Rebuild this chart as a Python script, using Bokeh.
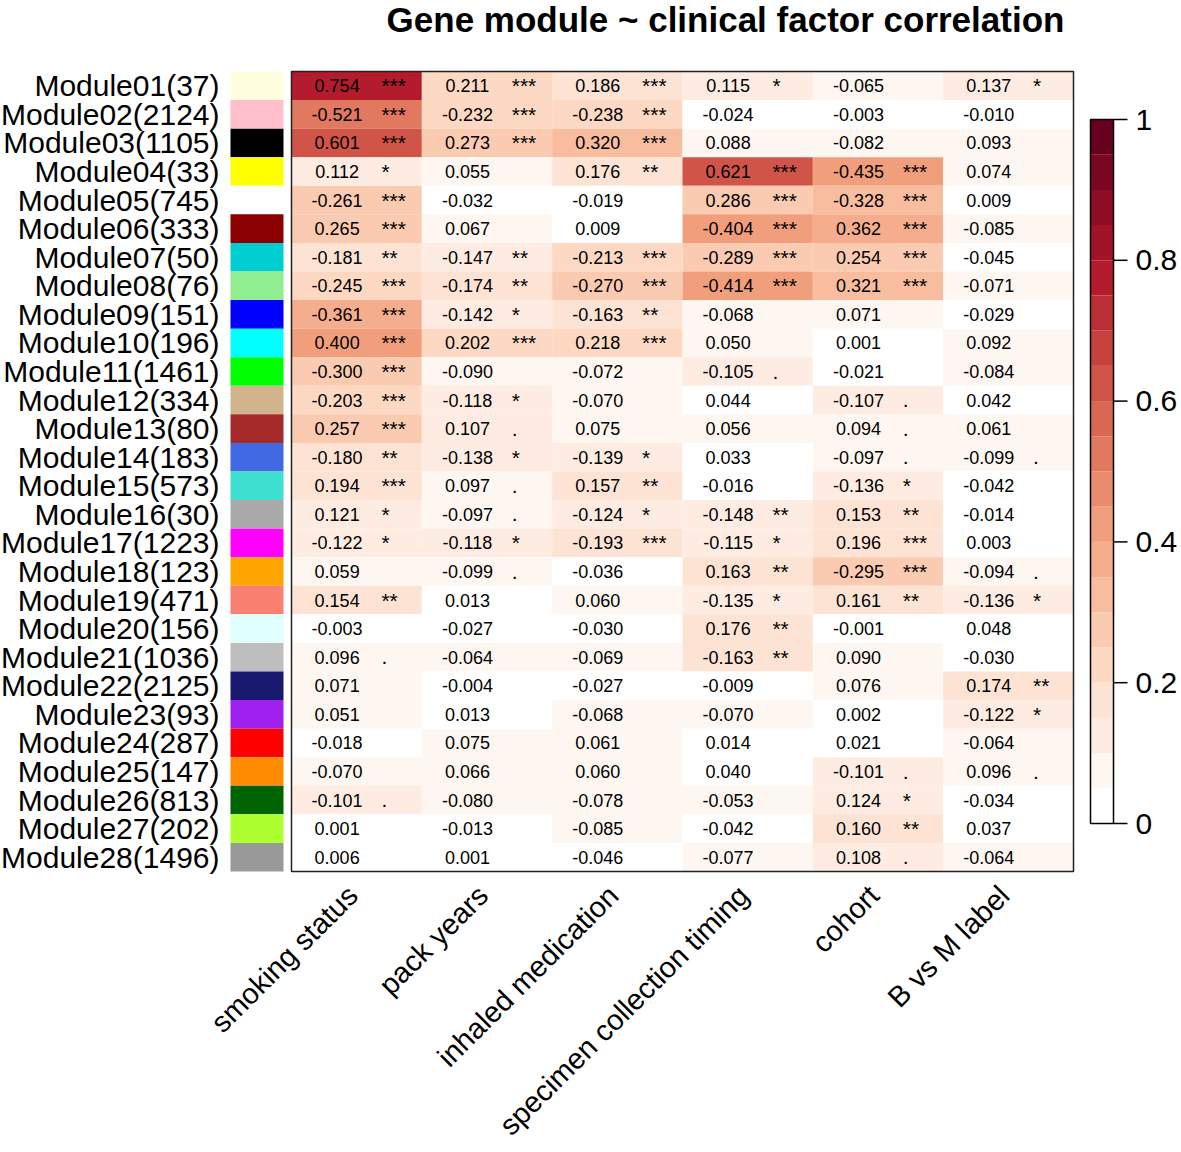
import math
import numpy as np
from bokeh.plotting import figure
from bokeh.models import Range1d, ColumnDataSource
from bokeh.core.properties import value
from bokeh.embed import file_html
from bokeh.resources import INLINE

# ---------------- data ----------------
factors = ["smoking status", "pack years", "inhaled medication",
           "specimen collection timing", "cohort", "B vs M label"]

module_names = ["Module%02d" % (i + 1) for i in range(28)]
module_sizes = [37, 2124, 1105, 33, 745, 333, 50, 76, 151, 196, 1461, 334, 80, 183,
                573, 30, 1223, 123, 471, 156, 1036, 2125, 93, 287, 147, 813, 202, 1496]
module_colors = ["#FFFFE0", "#FFC0CB", "#000000", "#FFFF00", "#FFFFFF", "#8B0000",
                 "#00CED1", "#90EE90", "#0000FF", "#00FFFF", "#00FF00", "#D2B48C",
                 "#A52A2A", "#4169E1", "#40E0D0", "#A9A9A9", "#FF00FF", "#FFA500",
                 "#FA8072", "#E0FFFF", "#BEBEBE", "#191970", "#A020F0", "#FF0000",
                 "#FF8C00", "#006400", "#ADFF2F", "#999999"]

corr_smoking = [0.754, -0.521, 0.601, 0.112, -0.261, 0.265, -0.181, -0.245, -0.361, 0.400,
                -0.300, -0.203, 0.257, -0.180, 0.194, 0.121, -0.122, 0.059, 0.154, -0.003,
                0.096, 0.071, 0.051, -0.018, -0.070, -0.101, 0.001, 0.006]
corr_packyears = [0.211, -0.232, 0.273, 0.055, -0.032, 0.067, -0.147, -0.174, -0.142, 0.202,
                  -0.090, -0.118, 0.107, -0.138, 0.097, -0.097, -0.118, -0.099, 0.013, -0.027,
                  -0.064, -0.004, 0.013, 0.075, 0.066, -0.080, -0.013, 0.001]
corr_inhaled = [0.186, -0.238, 0.320, 0.176, -0.019, 0.009, -0.213, -0.270, -0.163, 0.218,
                -0.072, -0.070, 0.075, -0.139, 0.157, -0.124, -0.193, -0.036, 0.060, -0.030,
                -0.069, -0.027, -0.068, 0.061, 0.060, -0.078, -0.085, -0.046]
corr_timing = [0.115, -0.024, 0.088, 0.621, 0.286, -0.404, -0.289, -0.414, -0.068, 0.050,
               -0.105, 0.044, 0.056, 0.033, -0.016, -0.148, -0.115, 0.163, -0.135, 0.176,
               -0.163, -0.009, -0.070, 0.014, 0.040, -0.053, -0.042, -0.077]
corr_cohort = [-0.065, -0.003, -0.082, -0.435, -0.328, 0.362, 0.254, 0.321, 0.071, 0.001,
               -0.021, -0.107, 0.094, -0.097, -0.136, 0.153, 0.196, -0.295, 0.161, -0.001,
               0.090, 0.076, 0.002, 0.021, -0.101, 0.124, 0.160, 0.108]
corr_bvsm = [0.137, -0.010, 0.093, 0.074, 0.009, -0.085, -0.045, -0.071, -0.029, 0.092,
             -0.084, 0.042, 0.061, -0.099, -0.042, -0.014, 0.003, -0.094, -0.136, 0.048,
             -0.030, 0.174, -0.122, -0.064, 0.096, -0.034, 0.037, -0.064]

sig_smoking = ["***", "***", "***", "*", "***", "***", "**", "***", "***", "***",
               "***", "***", "***", "**", "***", "*", "*", "", "**", "",
               ".", "", "", "", "", ".", "", ""]
sig_packyears = ["***", "***", "***", "", "", "", "**", "**", "*", "***",
                 "", "*", ".", "*", ".", ".", "*", ".", "", "",
                 "", "", "", "", "", "", "", ""]
sig_inhaled = ["***", "***", "***", "**", "", "", "***", "***", "**", "***",
               "", "", "", "*", "**", "*", "***", "", "", "",
               "", "", "", "", "", "", "", ""]
sig_timing = ["*", "", "", "***", "***", "***", "***", "***", "", "",
              ".", "", "", "", "", "**", "*", "**", "*", "**",
              "**", "", "", "", "", "", "", ""]
sig_cohort = ["", "", "", "***", "***", "***", "***", "***", "", "",
              "", ".", ".", ".", "*", "**", "***", "***", "**", "",
              "", "", "", "", ".", "*", "**", "."]
sig_bvsm = ["*", "", "", "", "", "", "", "", "", "",
            "", "", "", ".", "", "", "", ".", "*", "",
            "", "**", "*", "", ".", "", "", ""]

colorbar_ticks = [0, 0.2, 0.4, 0.6, 0.8, 1.0]
colorbar_tick_labels = ["0", "0.2", "0.4", "0.6", "0.8", "1"]

title_text = "Gene module ~ clinical factor correlation"

corr_cols = [corr_smoking, corr_packyears, corr_inhaled, corr_timing, corr_cohort, corr_bvsm]
sig_cols = [sig_smoking, sig_packyears, sig_inhaled, sig_timing, sig_cohort, sig_bvsm]

# ---------------- palette (style) ----------------
NBINS = 20
anchors_t = [0.0, 0.2, 0.4, 0.6, 0.8, 1.0]
anchors_c = ["#FFFFFF", "#FDDBC7", "#F4A582", "#D6604D", "#B2182B", "#67001F"]


def hex2rgb(h):
    return [int(h[i:i + 2], 16) for i in (1, 3, 5)]


arr = np.array([hex2rgb(c) for c in anchors_c], dtype=float)
palette = []
for k in range(NBINS):
    t = k / (NBINS - 1)
    rgb = [np.interp(t, anchors_t, arr[:, c]) for c in range(3)]
    palette.append("#%02X%02X%02X" % tuple(int(round(v)) for v in rgb))


def color_for(r):
    b = int(min(abs(r), 0.9999) / (1.0 / NBINS))
    return palette[b]


# ---------------- layout ----------------
W, H = 1180, 1150
X0, X1, Y0, Y1 = 291.0, 1073.0, 71.0, 871.0
ncol, nrow = len(factors), len(module_names)
cw = (X1 - X0) / ncol
rh = (Y1 - Y0) / nrow


def px(x):
    return (x - X0) / cw


def py(y):
    return (y - Y0) / rh


p = figure(width=W, height=H, output_backend="svg", toolbar_location=None,
           x_range=Range1d(px(0), px(W)), y_range=Range1d(py(H), py(0)),
           x_axis_type=None, y_axis_type=None, min_border=0)
p.outline_line_color = None
p.grid.visible = False
p.background_fill_color = "white"
p.border_fill_color = "white"

FONT = value("Liberation Sans")

# heatmap cells
cl, cr, ct, cb, cc, vx, vy, vt, sx, st = [], [], [], [], [], [], [], [], [], []
for j in range(ncol):
    for i in range(nrow):
        r = corr_cols[j][i]
        cl.append(j); cr.append(j + 1); ct.append(i); cb.append(i + 1)
        cc.append(color_for(r))
        vx.append(j + 0.35); vy.append(i + 0.5); vt.append("%.3f" % r)
        sx.append(j + 0.69); st.append(sig_cols[j][i])
cells = ColumnDataSource(dict(left=cl, right=cr, top=ct, bottom=cb, color=cc,
                              vx=vx, vy=vy, vt=vt, sx=sx, st=st))
p.quad(left="left", right="right", top="top", bottom="bottom", fill_color="color",
       line_color=None, source=cells)
p.text(x="vx", y="vy", text="vt", source=cells, text_font=FONT, text_font_size="18px",
       text_align="center", text_baseline="middle", text_color="black")
p.text(x="sx", y="vy", text="st", source=cells, text_font=FONT, text_font_size="21px",
       text_align="left", text_baseline="middle", text_color="black")

# border
p.quad(left=[0], right=[ncol], top=[0], bottom=[nrow], fill_color=None,
       line_color="#222222", line_width=1.5)

# module colour swatches
rows = list(range(nrow))
p.quad(left=[px(230)] * nrow, right=[px(283)] * nrow, top=rows,
       bottom=[r + 1 for r in rows], fill_color=module_colors, line_color=None)

# row labels
row_labels = ["%s(%d)" % (n, s) for n, s in zip(module_names, module_sizes)]
p.text(x=[px(219)] * nrow, y=[r + 0.5 for r in rows], text=row_labels,
       text_font=FONT, text_font_size="30px", text_align="right",
       text_baseline="middle", text_color="black")

# column labels
p.text(x=[j + 0.5 - 4.0 / cw for j in range(ncol)], y=[py(890)] * ncol, text=factors,
       angle=math.pi / 4, text_font=FONT, text_font_size="29px", text_align="right",
       text_baseline="middle", text_color="black")

# colour bar
cb_bot, cb_top = py(823), py(119)


def cby(v):
    return cb_bot + (cb_top - cb_bot) * v


p.quad(left=[px(1090)] * NBINS, right=[px(1113)] * NBINS,
       bottom=[cby(k / NBINS) for k in range(NBINS)],
       top=[cby((k + 1) / NBINS) for k in range(NBINS)],
       fill_color=palette, line_color=None)
p.quad(left=[px(1090)], right=[px(1113)], top=[cb_top], bottom=[cb_bot],
       fill_color=None, line_color="black", line_width=1.5)
p.segment(x0=[px(1113)] * len(colorbar_ticks), x1=[px(1127)] * len(colorbar_ticks),
          y0=[cby(v) for v in colorbar_ticks], y1=[cby(v) for v in colorbar_ticks],
          line_color="black", line_width=1.5)
p.text(x=[px(1135)] * len(colorbar_ticks), y=[cby(v) for v in colorbar_ticks],
       text=colorbar_tick_labels, text_font=FONT, text_font_size="30px",
       text_align="left", text_baseline="middle", text_color="black")

# title
p.text(x=[px(725)], y=[py(19)], text=[title_text], text_font=FONT,
       text_font_size="35px", text_font_style="bold", text_align="center",
       text_baseline="middle", text_color="black")

open("out.html", "w").write(file_html(p, INLINE))
